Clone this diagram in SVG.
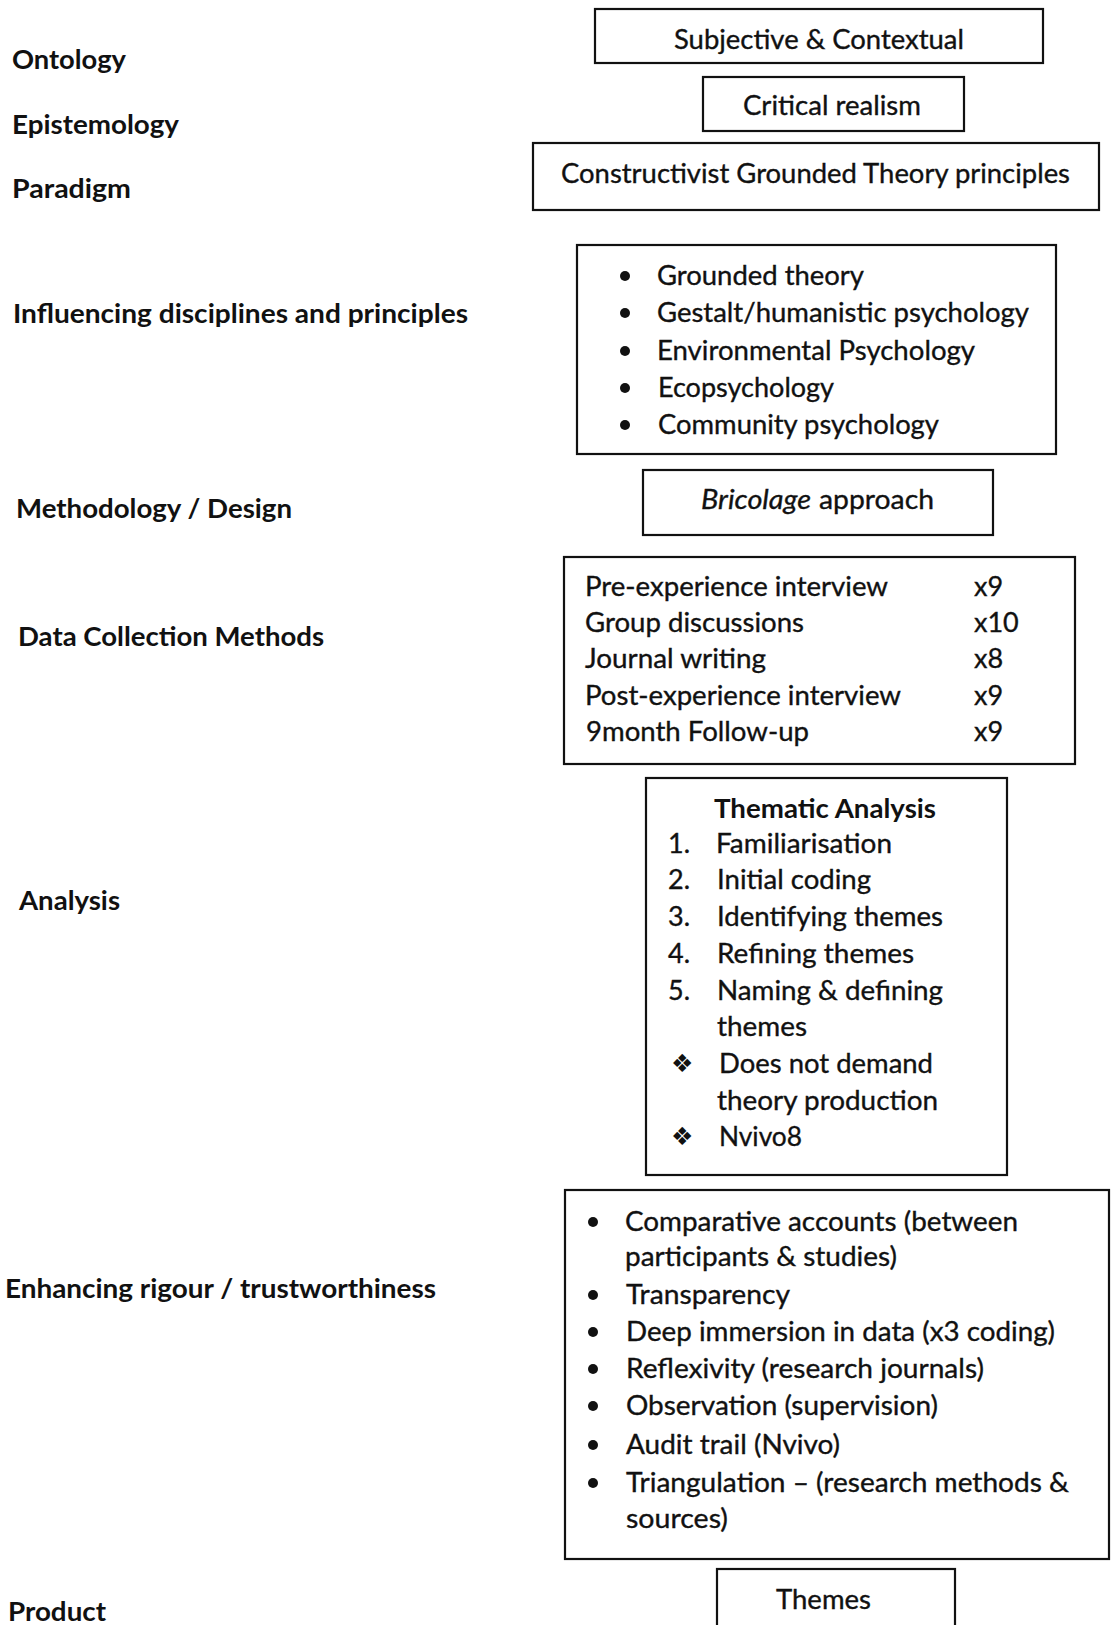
<svg xmlns="http://www.w3.org/2000/svg" width="1116" height="1625" viewBox="0 0 1116 1625">
  <style>
    .box { fill: #ffffff; stroke: #111111; stroke-width: 2.2; }
    .lbl { font-family: Lato, "Open Sans", "Liberation Sans", sans-serif; font-weight: 700; font-size: 27px; fill: #111111; }
    .txt { font-family: Lato, "Open Sans", "Liberation Sans", sans-serif; font-size: 27px; fill: #111111; stroke: #111111; stroke-width: 0.35; }
    .bold { font-weight: 700; stroke-width: 0; }
    .ital { font-style: italic; }
    .dot { fill: #111111; }
    .dia { font-family: "DejaVu Sans", sans-serif; font-size: 25px; fill: #111111; }
  </style>

  <rect width="1116" height="1625" fill="#ffffff"/>

  <!-- Row labels down the left side -->
  <g id="labels">
    <text class="lbl" x="12" y="69" textLength="114" lengthAdjust="spacingAndGlyphs">Ontology</text>
    <text class="lbl" x="12" y="134" textLength="167" lengthAdjust="spacingAndGlyphs">Epistemology</text>
    <text class="lbl" x="12" y="198" textLength="119" lengthAdjust="spacingAndGlyphs">Paradigm</text>
    <text class="lbl" x="13" y="323" textLength="455" lengthAdjust="spacingAndGlyphs">Influencing disciplines and principles</text>
    <text class="lbl" x="16" y="518" textLength="276" lengthAdjust="spacingAndGlyphs">Methodology / Design</text>
    <text class="lbl" x="18" y="646" textLength="306" lengthAdjust="spacingAndGlyphs">Data Collection Methods</text>
    <text class="lbl" x="19" y="910" textLength="101" lengthAdjust="spacingAndGlyphs">Analysis</text>
    <text class="lbl" x="5" y="1298" textLength="431" lengthAdjust="spacingAndGlyphs">Enhancing rigour / trustworthiness</text>
    <text class="lbl" x="8" y="1621" textLength="98" lengthAdjust="spacingAndGlyphs">Product</text>
  </g>

  <!-- Ontology -->
  <g id="ontology">
    <rect class="box" x="595" y="9" width="448" height="54"/>
    <text class="txt" x="674" y="49" textLength="290" lengthAdjust="spacingAndGlyphs">Subjective &amp; Contextual</text>
  </g>

  <!-- Epistemology -->
  <g id="epistemology">
    <rect class="box" x="703" y="77" width="261" height="54"/>
    <text class="txt" x="743" y="115" textLength="178" lengthAdjust="spacingAndGlyphs">Critical realism</text>
  </g>

  <!-- Paradigm -->
  <g id="paradigm">
    <rect class="box" x="533" y="143" width="566" height="67"/>
    <text class="txt" x="561" y="183" textLength="509" lengthAdjust="spacingAndGlyphs">Constructivist Grounded Theory principles</text>
  </g>

  <!-- Influencing disciplines -->
  <g id="disciplines">
    <rect class="box" x="577" y="245" width="479" height="209"/>
    <circle class="dot" cx="625" cy="276" r="5"/>
    <circle class="dot" cx="625" cy="313" r="5"/>
    <circle class="dot" cx="625" cy="351" r="5"/>
    <circle class="dot" cx="625" cy="388" r="5"/>
    <circle class="dot" cx="625" cy="425" r="5"/>
    <text class="txt" x="657" y="285" textLength="207" lengthAdjust="spacingAndGlyphs">Grounded theory</text>
    <text class="txt" x="657" y="322" textLength="372" lengthAdjust="spacingAndGlyphs">Gestalt/humanistic psychology</text>
    <text class="txt" x="657" y="360" textLength="318" lengthAdjust="spacingAndGlyphs">Environmental Psychology</text>
    <text class="txt" x="658" y="397" textLength="176" lengthAdjust="spacingAndGlyphs">Ecopsychology</text>
    <text class="txt" x="658" y="434" textLength="281" lengthAdjust="spacingAndGlyphs">Community psychology</text>
  </g>

  <!-- Methodology / Design -->
  <g id="methodology">
    <rect class="box" x="643" y="470" width="350" height="65"/>
    <text class="txt ital" x="701" y="509" textLength="110" lengthAdjust="spacingAndGlyphs">Bricolage</text>
    <text class="txt" x="819" y="509" textLength="115" lengthAdjust="spacingAndGlyphs">approach</text>
  </g>

  <!-- Data collection methods -->
  <g id="data-collection">
    <rect class="box" x="564" y="557" width="511" height="207"/>
    <text class="txt" x="585" y="596" textLength="303" lengthAdjust="spacingAndGlyphs">Pre-experience interview</text>
    <text class="txt" x="585" y="632" textLength="219" lengthAdjust="spacingAndGlyphs">Group discussions</text>
    <text class="txt" x="585" y="668" textLength="181" lengthAdjust="spacingAndGlyphs">Journal writing</text>
    <text class="txt" x="585" y="705" textLength="316" lengthAdjust="spacingAndGlyphs">Post-experience interview</text>
    <text class="txt" x="586" y="741" textLength="223" lengthAdjust="spacingAndGlyphs">9month Follow-up</text>
    <text class="txt" x="974" y="596">x9</text>
    <text class="txt" x="974" y="632">x10</text>
    <text class="txt" x="974" y="668">x8</text>
    <text class="txt" x="974" y="705">x9</text>
    <text class="txt" x="974" y="741">x9</text>
  </g>

  <!-- Analysis -->
  <g id="analysis">
    <rect class="box" x="646" y="778" width="361" height="397"/>
    <text class="txt bold" x="714" y="818" textLength="222" lengthAdjust="spacingAndGlyphs">Thematic Analysis</text>
    <text class="txt" x="668" y="853">1.</text>
    <text class="txt" x="668" y="889">2.</text>
    <text class="txt" x="668" y="926">3.</text>
    <text class="txt" x="668" y="963">4.</text>
    <text class="txt" x="668" y="1000">5.</text>
    <text class="dia" x="671" y="1072">❖</text>
    <text class="dia" x="671" y="1145">❖</text>
    <text class="txt" x="716" y="853" textLength="176" lengthAdjust="spacingAndGlyphs">Familiarisation</text>
    <text class="txt" x="717" y="889" textLength="154" lengthAdjust="spacingAndGlyphs">Initial coding</text>
    <text class="txt" x="717" y="926" textLength="226" lengthAdjust="spacingAndGlyphs">Identifying themes</text>
    <text class="txt" x="717" y="963" textLength="197" lengthAdjust="spacingAndGlyphs">Refining themes</text>
    <text class="txt" x="717" y="1000" textLength="226" lengthAdjust="spacingAndGlyphs">Naming &amp; defining</text>
    <text class="txt" x="717" y="1036" textLength="90" lengthAdjust="spacingAndGlyphs">themes</text>
    <text class="txt" x="719" y="1073" textLength="214" lengthAdjust="spacingAndGlyphs">Does not demand</text>
    <text class="txt" x="717" y="1110" textLength="221" lengthAdjust="spacingAndGlyphs">theory production</text>
    <text class="txt" x="719" y="1146" textLength="83" lengthAdjust="spacingAndGlyphs">Nvivo8</text>
  </g>

  <!-- Rigour / trustworthiness -->
  <g id="rigour">
    <rect class="box" x="565" y="1190" width="544" height="369"/>
    <circle class="dot" cx="593" cy="1222" r="5"/>
    <circle class="dot" cx="593" cy="1295" r="5"/>
    <circle class="dot" cx="593" cy="1332" r="5"/>
    <circle class="dot" cx="593" cy="1369" r="5"/>
    <circle class="dot" cx="593" cy="1406" r="5"/>
    <circle class="dot" cx="593" cy="1445" r="5"/>
    <circle class="dot" cx="593" cy="1483" r="5"/>
    <text class="txt" x="625" y="1231" textLength="393" lengthAdjust="spacingAndGlyphs">Comparative accounts (between</text>
    <text class="txt" x="625" y="1266" textLength="272" lengthAdjust="spacingAndGlyphs">participants &amp; studies)</text>
    <text class="txt" x="626" y="1304" textLength="164" lengthAdjust="spacingAndGlyphs">Transparency</text>
    <text class="txt" x="626" y="1341" textLength="429" lengthAdjust="spacingAndGlyphs">Deep immersion in data (x3 coding)</text>
    <text class="txt" x="626" y="1378" textLength="358" lengthAdjust="spacingAndGlyphs">Reflexivity (research journals)</text>
    <text class="txt" x="626" y="1415" textLength="312" lengthAdjust="spacingAndGlyphs">Observation (supervision)</text>
    <text class="txt" x="626" y="1454" textLength="214" lengthAdjust="spacingAndGlyphs">Audit trail (Nvivo)</text>
    <text class="txt" x="626" y="1492" textLength="443" lengthAdjust="spacingAndGlyphs">Triangulation – (research methods &amp;</text>
    <text class="txt" x="626" y="1528" textLength="102" lengthAdjust="spacingAndGlyphs">sources)</text>
  </g>

  <!-- Product -->
  <g id="product">
    <rect class="box" x="717" y="1569" width="238" height="80"/>
    <text class="txt" x="776" y="1609" textLength="95" lengthAdjust="spacingAndGlyphs">Themes</text>
  </g>

  <g id="connectors"/>
</svg>
